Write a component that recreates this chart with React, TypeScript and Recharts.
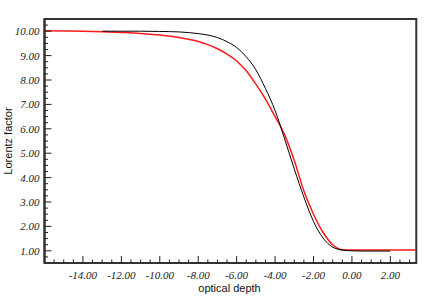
import { LineChart, Line, XAxis, YAxis, ReferenceArea } from "recharts";

// black curve
const depthBlack = [-13, -12, -11, -10, -9, -8, -7.5, -7, -6.5, -6, -5.5, -5, -4.5, -4, -3.5, -3, -2.5, -2, -1.5, -1, -0.5, 0, 0.5, 1, 2];
const gammaBlack = [10.0, 10.0, 10.0, 9.99, 9.97, 9.9, 9.84, 9.74, 9.57, 9.33, 8.95, 8.42, 7.65, 6.75, 5.58, 4.35, 3.2, 2.2, 1.52, 1.15, 1.03, 1.0, 0.99, 0.99, 0.99];

// red curve
const depthRed = [-16, -15, -14, -13, -12, -11, -10, -9, -8, -7.5, -7, -6.5, -6, -5.5, -5, -4.5, -4, -3.5, -3, -2.5, -2, -1.5, -1, -0.5, 0, 0.5, 1, 2, 3.35];
const gammaRed = [10.02, 10.01, 10.0, 9.98, 9.95, 9.91, 9.84, 9.74, 9.58, 9.45, 9.28, 9.06, 8.78, 8.38, 7.83, 7.22, 6.5, 5.75, 4.7, 3.45, 2.5, 1.75, 1.25, 1.04, 1.03, 1.03, 1.03, 1.03, 1.03];

const xDomain = [-16, 3.35];
const yDomain = [0.5, 10.5];
const xMajor = [-14, -12, -10, -8, -6, -4, -2, 0, 2];
const yMajor = [1, 2, 3, 4, 5, 6, 7, 8, 9, 10];

const xTicks: number[] = [];
for (let v = -15.5; v <= 3.001; v += 0.5) xTicks.push(Math.round(v * 100) / 100);
const yTicks: number[] = [];
for (let v = 0.75; v <= 10.26; v += 0.25) yTicks.push(Math.round(v * 100) / 100);

const blackData = depthBlack.map((d, i) => ({ d, g: gammaBlack[i] }));
const redData = depthRed.map((d, i) => ({ d, g: gammaRed[i] }));

const serif = "'Liberation Serif', 'Times New Roman', serif";
const sans = "'Liberation Sans', Arial, sans-serif";

// ticks point inward, labels only on the majors
const XTick = ({ x, y, payload }: any) => {
  const major = xMajor.includes(payload.value);
  return (
    <g>
      <line x1={x} x2={x} y1={y} y2={y - (major ? 7 : 3.5)} stroke="#222" />
      {major && (
        <text x={x} y={y + 15.5} textAnchor="middle" fontFamily={serif} fontStyle="italic" fontSize={11} fill="#222">
          {payload.value.toFixed(2)}
        </text>
      )}
    </g>
  );
};

const YTick = ({ x, y, payload }: any) => {
  const major = yMajor.includes(payload.value);
  return (
    <g>
      <line x1={x} x2={x + (major ? 7 : 3.5)} y1={y} y2={y} stroke="#222" />
      {major && (
        <text x={x - 5} y={y + 4} textAnchor="end" fontFamily={serif} fontStyle="italic" fontSize={11} fill="#222">
          {payload.value.toFixed(2)}
        </text>
      )}
    </g>
  );
};

export default function App() {
  return (
    <div style={{ position: "absolute", left: 0, top: 0, background: "#fff" }}>
      <LineChart width={436} height={308} margin={{ top: 19, right: 19.7, left: 4.5, bottom: 15 }}>
        <XAxis
          dataKey="d"
          type="number"
          domain={xDomain}
          allowDataOverflow
          ticks={xTicks}
          interval={0}
          tickSize={0}
          tickMargin={0}
          axisLine={{ stroke: "#333", strokeWidth: 2 }}
          tick={<XTick />}
          height={30}
          label={() => (
            <text x={229.5} y={292} textAnchor="middle" fontFamily={sans} fontSize={11} fill="#111">
              optical depth
            </text>
          )}
        />
        <YAxis
          dataKey="g"
          type="number"
          domain={yDomain}
          allowDataOverflow
          ticks={yTicks}
          interval={0}
          tickSize={0}
          tickMargin={0}
          axisLine={{ stroke: "#333", strokeWidth: 2 }}
          tick={<YTick />}
          width={40}
          label={() => (
            <text x={11.5} y={141} transform="rotate(-90 11.5 141)" textAnchor="middle" fontFamily={sans} fontSize={11} fill="#111">
              Lorentz factor
            </text>
          )}
        />
        <ReferenceArea
          x1={-16}
          x2={3.35}
          y1={0.5}
          y2={10.5}
          ifOverflow="visible"
          fill="#fff"
          fillOpacity={0}
          stroke="#333"
          strokeOpacity={1}
          strokeWidth={2}
        />
        <Line data={redData} dataKey="g" type="monotone" stroke="#ff1a1a" strokeWidth={1.5} dot={false} isAnimationActive={false} />
        <Line data={blackData} dataKey="g" type="monotone" stroke="#000" strokeWidth={1} dot={false} isAnimationActive={false} />
      </LineChart>
    </div>
  );
}
